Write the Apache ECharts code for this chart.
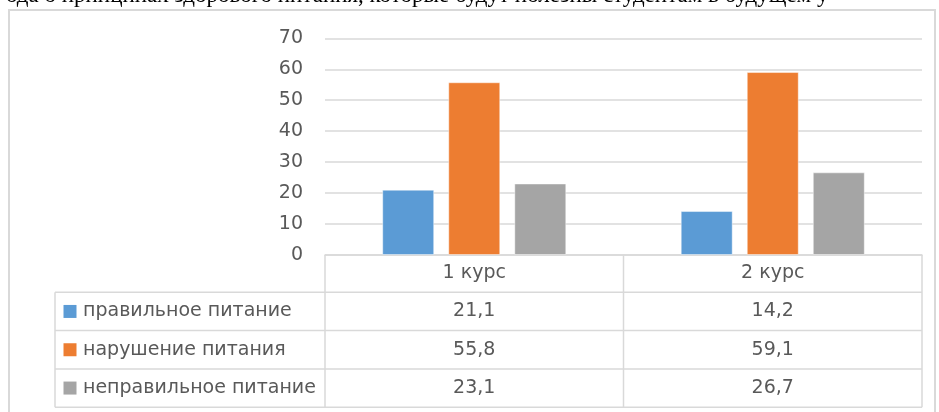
<!DOCTYPE html>
<html>
<head>
<meta charset="utf-8">
<script src="https://cdn.jsdelivr.net/npm/echarts@6/dist/echarts.min.js"></script>
<style>
  html, body { margin: 0; padding: 0; background: #ffffff; }
  #chart { width: 939px; height: 412px; }
</style>
</head>
<body>
<div id="chart"></div>
<script>
// Survey results by year of study (%)
const categories = ['1 курс', '2 курс'];
const seriesNames = ['правильное питание', 'нарушение питания', 'неправильное питание'];
const correctNutrition = [21.1, 14.2];
const disturbedNutrition = [55.8, 59.1];
const wrongNutrition = [23.1, 26.7];
const yTicks = [0, 10, 20, 30, 40, 50, 60, 70];
const headline = 'ода о принципах здорового питания, которые будут полезны студентам в будущем у';

const seriesValues = [correctNutrition, disturbedNutrition, wrongNutrition];
const colors = ['#5B9BD5', '#ED7D31', '#A5A5A5'];

const FONT = '"DejaVu Sans", "Open Sans", sans-serif';
const TEXT_COLOR = '#595959';
const LINE_COLOR = '#d9d9d9';
const FS = 19;

// layout of the plot area and the data table under it
const plotLeft = 325, plotRight = 922, plotTop = 38.3, plotBottom = 255;
const tableLeft = 55;
const rowLines = [292.3, 330.6, 368.9, 407.2];

const chart = echarts.init(document.getElementById('chart'), null, { renderer: 'canvas' });

const fmt = v => String(v).replace('.', ',');

chart.setOption({
  animation: false,
  backgroundColor: '#ffffff',
  grid: {
    left: plotLeft,
    right: 939 - plotRight,
    top: plotTop,
    bottom: 412 - plotBottom,
    containLabel: false
  },
  xAxis: {
    type: 'category',
    data: categories,
    axisLine: { show: true, lineStyle: { color: LINE_COLOR, width: 1.5 } },
    axisTick: { show: false },
    axisLabel: {
      color: TEXT_COLOR,
      fontFamily: FONT,
      fontSize: FS,
      margin: 18.5,
      verticalAlign: 'middle'
    },
    splitLine: { show: false }
  },
  yAxis: {
    type: 'value',
    min: yTicks[0],
    max: yTicks[yTicks.length - 1],
    interval: yTicks[1] - yTicks[0],
    axisLine: { show: false },
    axisTick: { show: false },
    axisLabel: {
      color: TEXT_COLOR,
      fontFamily: FONT,
      fontSize: FS,
      margin: 22
    },
    splitLine: { lineStyle: { color: LINE_COLOR, width: 1.5 } }
  },
  series: seriesNames.map((name, i) => ({
    name: name,
    type: 'bar',
    data: seriesValues[i],
    barWidth: 52,
    barGap: '27%',
    itemStyle: {
      color: colors[i],
      borderColor: 'rgba(255,255,255,0.45)',
      borderWidth: 1
    }
  }))
});

// data table under the plot: column centres come from the category axis
const colCenters = categories.map(c => chart.convertToPixel({ xAxisIndex: 0 }, c));
const colWidth = (plotRight - plotLeft) / categories.length;
const graphics = [];

const line = (x1, y1, x2, y2) => graphics.push({
  type: 'line',
  shape: { x1, y1, x2, y2 },
  style: { stroke: LINE_COLOR, lineWidth: 1.5 },
  silent: true
});

// text line of the surrounding page, mostly cut off by the top edge
graphics.push({
  type: 'text',
  x: 6,
  y: -16,
  style: {
    text: headline,
    font: '23px "Liberation Serif", "DejaVu Serif", serif',
    fill: '#000000',
    verticalAlign: 'top'
  },
  silent: true
});

// outer chart frame
graphics.push({
  type: 'rect',
  shape: { x: 9, y: 10, width: 926, height: 420 },
  style: { fill: null, stroke: LINE_COLOR, lineWidth: 2 },
  silent: true
});

rowLines.forEach(y => line(tableLeft, y, plotRight, y));
line(tableLeft, rowLines[0], tableLeft, rowLines[rowLines.length - 1]);
for (let k = 0; k <= categories.length; k++) {
  const x = plotLeft + k * colWidth;
  line(x, plotBottom, x, rowLines[rowLines.length - 1]);
}

seriesNames.forEach((name, i) => {
  const yc = (rowLines[i] + rowLines[i + 1]) / 2;
  graphics.push({
    type: 'rect',
    shape: { x: 63.5, y: yc - 6.5, width: 13, height: 13 },
    style: { fill: colors[i] },
    silent: true
  });
  graphics.push({
    type: 'text',
    x: 83,
    y: yc,
    style: {
      text: name,
      fill: TEXT_COLOR,
      font: FS + 'px ' + FONT,
      verticalAlign: 'middle',
      align: 'left'
    },
    silent: true
  });
  seriesValues[i].forEach((v, j) => {
    graphics.push({
      type: 'text',
      x: colCenters[j],
      y: yc,
      style: {
        text: fmt(v),
        fill: TEXT_COLOR,
        font: FS + 'px ' + FONT,
        verticalAlign: 'middle',
        align: 'center'
      },
      silent: true
    });
  });
});

chart.setOption({ graphic: { elements: graphics } });
</script>
</body>
</html>
